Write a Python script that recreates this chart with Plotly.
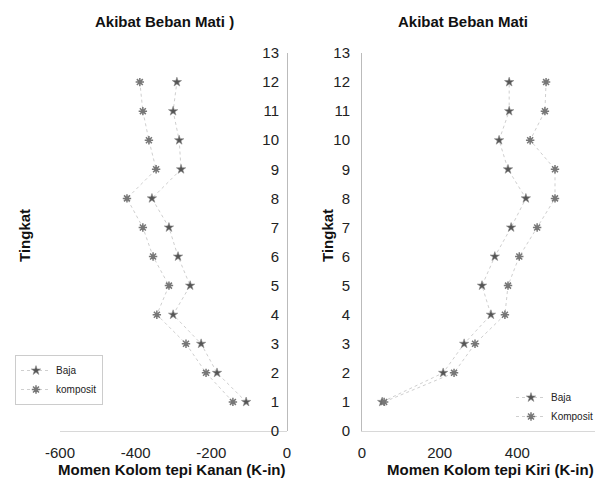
import plotly.graph_objects as go

levels = [1, 2, 3, 4, 5, 6, 7, 8, 9, 10, 11, 12]

# Left chart: Momen Kolom tepi Kanan (K-in)
kanan_baja = [-108, -185, -227, -301, -256, -288, -312, -357, -280, -285, -301, -291]
kanan_komposit = [-143, -214, -267, -344, -312, -354, -381, -423, -346, -365, -381, -389]

# Right chart: Momen Kolom tepi Kiri (K-in)
kiri_baja = [52, 209, 263, 332, 309, 342, 384, 422, 376, 353, 379, 379]
kiri_komposit = [57, 237, 291, 368, 376, 405, 451, 497, 497, 433, 471, 474]

y_ticks = list(range(0, 14))
kanan_ticks = [-600, -400, -200, 0]
kanan_ticktext = ["-600", "-400", "-200", "0"]
kiri_ticks = [0, 200, 400, 600]
kiri_ticktext = ["0", "200", "400", "600"]

W, H = 604, 482
FONT = "Liberation Sans, Arial, sans-serif"

baja_marker = dict(symbol="star", size=7, color="#555",
                   line=dict(width=0.6, color="#888"))
komp_marker = dict(symbol="asterisk-open", size=7, color="#777",
                   line=dict(width=1.5, color="#777"))
line_style = dict(color="#cfcfcf", width=1, dash="dot")

fig = go.Figure()

fig.add_trace(go.Scatter(x=kanan_baja, y=levels, name="Baja", mode="lines+markers",
                         marker=baja_marker, line=line_style,
                         xaxis="x", yaxis="y", legend="legend"))
fig.add_trace(go.Scatter(x=kanan_komposit, y=levels, name="komposit", mode="lines+markers",
                         marker=komp_marker, line=line_style,
                         xaxis="x", yaxis="y", legend="legend"))
fig.add_trace(go.Scatter(x=kiri_baja, y=levels, name="Baja", mode="lines+markers",
                         marker=baja_marker, line=line_style,
                         xaxis="x2", yaxis="y2", legend="legend2"))
fig.add_trace(go.Scatter(x=kiri_komposit, y=levels, name="Komposit", mode="lines+markers",
                         marker=komp_marker, line=line_style,
                         xaxis="x2", yaxis="y2", legend="legend2"))

ydom = [(H - 431) / H, (H - 53) / H]
tickfont = dict(family=FONT, size=15, color="#222")

fig.update_layout(
    width=W, height=H,
    margin=dict(l=0, r=0, t=0, b=0, autoexpand=False),
    paper_bgcolor="white", plot_bgcolor="white",
    showlegend=True,
    xaxis=dict(domain=[60 / W, 287 / W], range=[-600, 0], tickvals=kanan_ticks,
               ticktext=kanan_ticktext,
               showgrid=False, zeroline=False, showline=True, linecolor="#d8d8d8",
               linewidth=1, ticks="", tickfont=tickfont, anchor="y",
               ticklabelstandoff=8),
    yaxis=dict(domain=ydom, range=[0, 13], tickvals=y_ticks, showgrid=False,
               zeroline=False, showline=True, linecolor="#bbbbbb", linewidth=1,
               ticks="", tickfont=tickfont, anchor="free", position=287 / W,
               side="left", ticklabelstandoff=5),
    xaxis2=dict(domain=[362 / W, 595 / W], range=[0, 600], tickvals=kiri_ticks,
                ticktext=kiri_ticktext,
                showgrid=False, zeroline=False, showline=True, linecolor="#d8d8d8",
                linewidth=1, ticks="", tickfont=tickfont, anchor="y2",
                ticklabelstandoff=8),
    yaxis2=dict(domain=ydom, range=[0, 13], tickvals=y_ticks, showgrid=False,
                zeroline=False, showline=True, linecolor="#bbbbbb", linewidth=1,
                ticks="", tickfont=tickfont, anchor="x2", side="left",
                ticklabelstandoff=8),
    legend=dict(x=15 / W, y=(H - 355) / H, xanchor="left", yanchor="top",
                font=dict(family=FONT, size=10, color="#222"),
                bgcolor="rgba(0,0,0,0)", bordercolor="#cccccc", borderwidth=1,
                itemwidth=30, tracegroupgap=0),
    legend2=dict(x=511 / W, y=(H - 383) / H, xanchor="left", yanchor="top",
                 font=dict(family=FONT, size=10, color="#222"),
                 bgcolor="rgba(0,0,0,0)", borderwidth=0,
                 itemwidth=30, tracegroupgap=0),
)

title_font = dict(family=FONT, size=15, color="#111")
axis_title_font = dict(family=FONT, size=15, color="#111")

annotations = [
    dict(text="<b>Akibat Beban Mati )</b>", x=164 / W, y=(H - 22) / H, font=title_font),
    dict(text="<b>Akibat Beban Mati</b>", x=463 / W, y=(H - 22) / H, font=title_font),
    dict(text="<b>Momen Kolom tepi Kanan (K-in)</b>", x=172 / W, y=(H - 469) / H,
         font=axis_title_font),
    dict(text="<b>Momen Kolom tepi Kiri (K-in)</b>", x=490 / W, y=(H - 469) / H,
         font=axis_title_font),
    dict(text="<b>Tingkat</b>", x=24 / W, y=(H - 236) / H, textangle=-90,
         font=axis_title_font),
    dict(text="<b>Tingkat</b>", x=327 / W, y=(H - 236) / H, textangle=-90,
         font=axis_title_font),
]
for a in annotations:
    a.update(xref="paper", yref="paper", showarrow=False, xanchor="center",
             yanchor="middle")
fig.update_layout(annotations=annotations)

fig.write_html(
    "out.html",
    config={"displayModeBar": False},
    post_script="document.body.style.margin='0';document.body.style.padding='0';"
                "document.body.style.overflow='hidden';",
)
